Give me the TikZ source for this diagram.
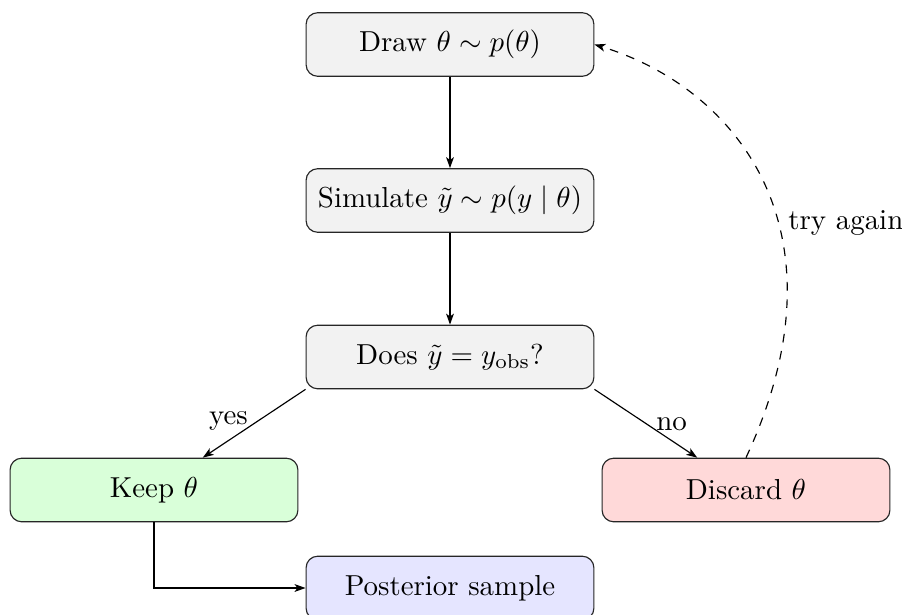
\documentclass[tikz,border=0pt]{standalone}
\usetikzlibrary{arrows.meta}
\begin{document}
\begin{tikzpicture}[x=0.34602pt,y=-0.34602pt,
  box/.style={draw=black!85, rounded corners, minimum width=3.5cm, minimum height=22pt, inner sep=3.33pt, line width=0.4pt},
  arr/.style={-{Stealth[length=3.8pt,width=2.7pt,inset=1pt]}, line width=0.4pt}]
\useasboundingbox (0,0) rectangle (902,615);
\node[box, fill=gray!10] (draw) at (450,44.5) {Draw $\theta \sim p(\theta)$};
\node[box, fill=gray!10] (sim) at (450,200.5) {Simulate $\tilde{y} \sim p(y \mid \theta)$};
\node[box, fill=gray!10] (does) at (450,357) {Does $\tilde{y} = y_{\mathrm{obs}}$?};
\node[box, fill=green!15] (keep) at (154,490) {Keep $\theta$};
\node[box, fill=red!15] (discard) at (746,490) {Discard $\theta$};
\node[box, fill=blue!10] (post) at (450,588) {Posterior sample};
\draw[arr] (draw) -- (sim);
\draw[arr] (sim) -- (does);
\draw[arr] (does.south west) -- node[near end, above] {yes} (keep);
\draw[arr] (does.south east) -- node[near end, above] {no} (discard);
\draw[arr] (keep.south) |- (post.west);
\draw[arr, dashed] (discard.north) to[out=65, in=-17, out distance=86pt, in distance=52pt] node[pos=0.41, right] {try again} (draw.east);
\end{tikzpicture}
\end{document}
